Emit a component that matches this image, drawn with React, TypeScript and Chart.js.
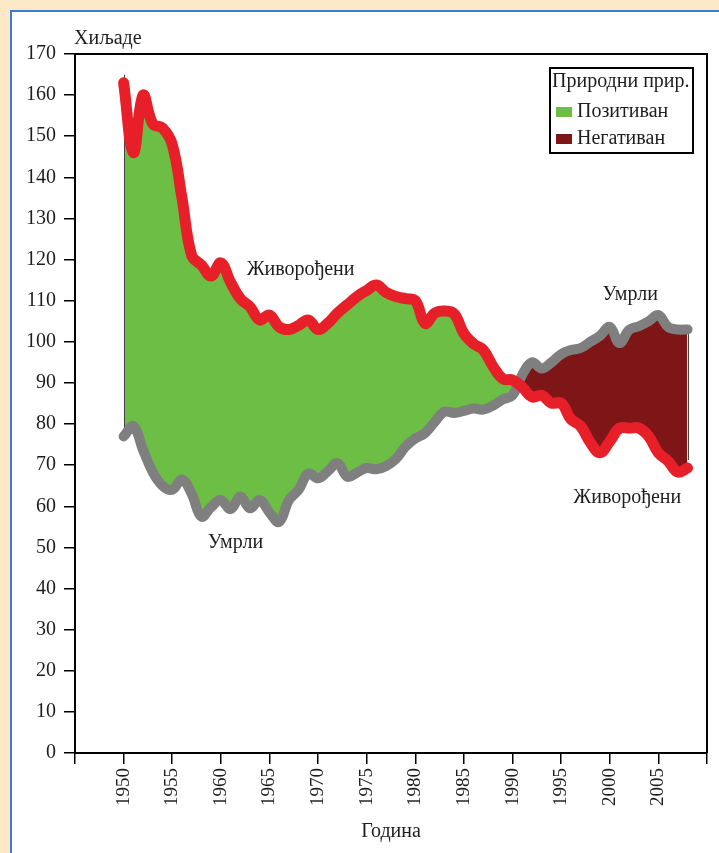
import React, { useEffect, useRef } from "react";
import { Chart, registerables } from "chart.js";

Chart.register(...registerables);

const years = [
  1950, 1951, 1952, 1953, 1954, 1955, 1956, 1957, 1958, 1959,
  1960, 1961, 1962, 1963, 1964, 1965, 1966, 1967, 1968, 1969,
  1970, 1971, 1972, 1973, 1974, 1975, 1976, 1977, 1978, 1979,
  1980, 1981, 1982, 1983, 1984, 1985, 1986, 1987, 1988, 1989,
  1990, 1991, 1992, 1993, 1994, 1995, 1996, 1997, 1998, 1999,
  2000, 2001, 2002, 2003, 2004, 2005, 2006, 2007, 2008,
];

// Живорођени (хиљаде)
const births = [
  163, 146, 160, 153, 152, 148, 135, 121, 118.7, 116,
  119.2, 114.5, 110.5, 108.5, 105.3, 106.5, 103.6, 103, 104, 105.3,
  103, 104.5, 107, 109, 111, 112.5, 113.8, 112, 111, 110.5,
  110, 104.5, 107, 107.5, 106.8, 102, 99.5, 98, 94, 91,
  90.7, 89, 86.6, 87, 85.1, 85.1, 81.2, 79.5, 75.5, 73,
  75.8, 79, 79, 79, 77, 73, 71, 68.3, 69.3,
];

// Умрли (хиљаде)
const deaths = [
  77, 79.5, 73.7, 68.3, 65, 64, 66.5, 63, 57.5, 59.8,
  61.5, 59.3, 62.3, 59.5, 61.5, 58.5, 56.2, 61.5, 64, 68,
  66.8, 68.5, 70.5, 67.2, 68.2, 69.3, 69, 69.8, 71.5, 74.5,
  76.5, 77.8, 80.5, 83, 82.7, 83.2, 83.8, 83.5, 84.5, 86,
  87, 92, 95, 93.5, 95, 97, 98, 98.5, 100, 101.5,
  103.6, 99.7, 102.9, 103.8, 105, 106.5, 103.6, 103, 103,
];

const xTickLabels = ["1950", "1955", "1960", "1965", "1970", "1975", "1980", "1985", "1990", "1995", "2000", "2005"];
const yAxisTitle = "Хиљаде";
const xAxisTitle = "Година";
const legendTitle = "Природни прир.";
const legendLabels = ["Позитиван", "Негативан"];
const seriesNames = ["Живорођени", "Умрли"];

// annotation texts anchored in data units (year, thousands)
const annotationTexts = ["Живорођени", "Умрли", "Умрли", "Живорођени"];
const annotationYears = [1968.2, 1961.5, 2002.1, 2001.8];
const annotationValues = [117.5, 51.1, 111.4, 62.0];

const FONT = "'Liberation Serif', 'Times New Roman', serif";
const TEXT = "#1e1e1e";
const RED = "#e61f29";
const GRAY = "#7f7f7f";
const GREEN = "#6dbe45";
const DARKRED = "#7e1517";
const BEIGE = "#fde9c8";
const BLUE = "#3a7ccf";

export default function App() {
  const canvasRef = useRef<HTMLCanvasElement | null>(null);

  useEffect(() => {
    const canvas = canvasRef.current;
    if (!canvas) return;

    const decor = {
      id: "decor",
      beforeDatasetsDraw(chart: any) {
        const ctx = chart.ctx;
        const xs = chart.scales.x;
        const ys = chart.scales.y;
        ctx.save();
        ctx.strokeStyle = "#444";
        ctx.lineWidth = 1;
        [0, years.length - 1].forEach((i) => {
          const px = Math.round(xs.getPixelForValue(years[i])) + 0.5;
          ctx.beginPath();
          ctx.moveTo(px, ys.getPixelForValue(births[i]) - 8);
          ctx.lineTo(px, ys.getPixelForValue(deaths[i]));
          ctx.stroke();
        });
        ctx.restore();
      },
      afterDraw(chart: any) {
        const ctx = chart.ctx;
        const area = chart.chartArea;
        const xs = chart.scales.x;
        const ys = chart.scales.y;
        ctx.save();
        // top & right frame
        ctx.strokeStyle = "#000";
        ctx.lineWidth = 2;
        ctx.beginPath();
        ctx.moveTo(area.left, area.top);
        ctx.lineTo(area.right, area.top);
        ctx.lineTo(area.right, area.bottom);
        ctx.stroke();

        // y axis title at top-left
        ctx.fillStyle = TEXT;
        ctx.font = `20px ${FONT}`;
        ctx.textAlign = "left";
        ctx.textBaseline = "middle";
        ctx.fillText(yAxisTitle, area.left - 1, area.top - 15);

        // annotations
        ctx.textAlign = "center";
        annotationTexts.forEach((t, i) => {
          ctx.fillText(t, xs.getPixelForValue(annotationYears[i]), ys.getPixelForValue(annotationValues[i]));
        });

        // legend box
        const lx = area.right - 157;
        const ly = area.top + 14;
        const lw = 143;
        const lh = 85;
        ctx.fillStyle = "#fff";
        ctx.fillRect(lx, ly, lw, lh);
        ctx.strokeStyle = "#000";
        ctx.lineWidth = 2;
        ctx.strokeRect(lx, ly, lw, lh);
        ctx.fillStyle = TEXT;
        ctx.textAlign = "left";
        ctx.fillText(legendTitle, lx + 2, ly + 14);
        const colors = [GREEN, DARKRED];
        legendLabels.forEach((lab, i) => {
          const cy = ly + 44 + i * 27;
          ctx.fillStyle = colors[i];
          ctx.fillRect(lx + 6, cy - 5, 16, 10);
          ctx.fillStyle = TEXT;
          ctx.fillText(lab, lx + 27, cy);
        });
        ctx.restore();
      },
    };

    const chart = new Chart(canvas, {
      type: "line",
      data: {
        datasets: [
          {
            label: seriesNames[0],
            data: years.map((y, i) => ({ x: y, y: births[i] })),
            borderColor: RED,
            borderWidth: 11,
            pointRadius: 0,
            tension: 0.4,
            borderCapStyle: "round",
            borderJoinStyle: "round",
            fill: { target: 1, above: GREEN, below: DARKRED },
          },
          {
            label: seriesNames[1],
            data: years.map((y, i) => ({ x: y, y: deaths[i] })),
            borderColor: GRAY,
            borderWidth: 10,
            pointRadius: 0,
            tension: 0.4,
            borderCapStyle: "round",
            borderJoinStyle: "round",
            fill: false,
          },
        ],
      },
      options: {
        responsive: false,
        animation: false,
        layout: { padding: { left: 0, top: 54, right: 12, bottom: 0 } },
        plugins: {
          legend: { display: false },
          tooltip: { enabled: false },
          filler: { drawTime: "beforeDatasetsDraw" },
        } as any,
        scales: {
          x: {
            type: "linear",
            min: 1945,
            max: 2010,
            ticks: {
              stepSize: 5,
              autoSkip: false,
              minRotation: 90,
              maxRotation: 90,
              color: TEXT,
              font: { family: FONT, size: 19 },
              padding: 4,
              callback: (v: any) => (xTickLabels.includes(String(v)) ? String(v) : ""),
            },
            grid: { drawOnChartArea: false, drawTicks: true, tickLength: 11, color: "#000", lineWidth: 1.5 },
            border: { color: "#000", width: 2 },
            title: {
              display: true,
              text: xAxisTitle,
              color: TEXT,
              font: { family: FONT, size: 20 },
              padding: { top: 0, bottom: 9 },
            },
            afterFit: (s: any) => {
              s.height = 100;
              s.paddingLeft = 0;
              s.paddingRight = 0;
            },
          },
          y: {
            min: 0,
            max: 170,
            ticks: { stepSize: 10, color: TEXT, font: { family: FONT, size: 20 }, padding: 8 },
            grid: { drawOnChartArea: false, drawTicks: true, tickLength: 11, color: "#000", lineWidth: 1.5 },
            border: { color: "#000", width: 2 },
            afterFit: (s: any) => {
              s.width = 75;
              s.paddingTop = 0;
              s.paddingBottom = 0;
            },
          },
        },
      } as any,
      plugins: [decor],
    });

    return () => chart.destroy();
  }, []);

  return (
    <div style={{ position: "absolute", left: 0, top: 0, width: 719, height: 853, background: BEIGE, overflow: "hidden" }}>
      <div
        style={{
          position: "absolute",
          left: 10,
          top: 10,
          width: 720,
          height: 850,
          background: "#fff",
          borderLeft: `2px solid ${BLUE}`,
          borderTop: `2px solid ${BLUE}`,
        }}
      />
      <canvas ref={canvasRef} width={719} height={853} style={{ position: "absolute", left: 0, top: 0 }} />
    </div>
  );
}
